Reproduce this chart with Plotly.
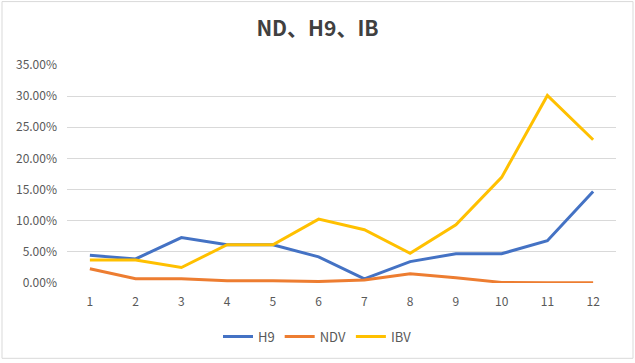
import plotly.graph_objects as go

months = [1, 2, 3, 4, 5, 6, 7, 8, 9, 10, 11, 12]
h9 = [0.0444, 0.0387, 0.0730, 0.0615, 0.0615, 0.0420, 0.0067, 0.0343, 0.0470, 0.0470, 0.0680, 0.1470]
ndv = [0.0230, 0.0067, 0.0067, 0.0035, 0.0035, 0.0024, 0.0050, 0.0150, 0.0083, 0.0010, 0.0005, 0.0005]
ibv = [0.0370, 0.0370, 0.0248, 0.0615, 0.0615, 0.1025, 0.0855, 0.0477, 0.0935, 0.1696, 0.3010, 0.2300]
y_ticks = [0, 0.05, 0.10, 0.15, 0.20, 0.25, 0.30, 0.35]
y_tick_labels = ["0.00%", "5.00%", "10.00%", "15.00%", "20.00%", "25.00%", "30.00%", "35.00%"]

series = [("H9", h9, "#4472C4"), ("NDV", ndv, "#ED7D31"), ("IBV", ibv, "#FFC000")]

fig = go.Figure()
for name, vals, color in series:
    fig.add_trace(go.Scatter(x=months, y=vals, name=name, mode="lines",
                             line=dict(color=color, width=3)))

W, H = 635, 363
ml, mr, mt, mb = 67, 19, 65, 78
pw, ph = W - ml - mr, H - mt - mb

fig.update_layout(
    width=W, height=H,
    margin=dict(l=ml, r=mr, t=mt, b=mb),
    paper_bgcolor="white", plot_bgcolor="white",
    font=dict(family="Noto Sans CJK SC", size=12, color="#595959"),
    title=dict(text="<b>ND、H9、IB</b>", x=0.5, xref="container", xanchor="center",
               y=1 - 29 / H, yanchor="middle",
               font=dict(family="Noto Sans CJK SC", size=21, color="#404040")),
    showlegend=True,
    legend=dict(orientation="h", x=(317.5 - ml) / pw, xanchor="center", y=(H - mb - 339) / ph,
                yanchor="middle", font=dict(size=13, color="#595959"),
                itemwidth=30, tracegroupgap=0),
    xaxis=dict(range=[0.5, 12.5], tickvals=months, ticktext=[str(m) for m in months],
               showgrid=False, zeroline=False, showline=False, ticks="",
               ticklabelstandoff=10, fixedrange=True),
    yaxis=dict(range=[0, 0.35], tickvals=y_ticks, ticktext=y_tick_labels,
               showgrid=True, gridcolor="#D9D9D9", gridwidth=1, zeroline=False,
               showline=False, ticks="", ticklabelstandoff=9, fixedrange=True),
    shapes=[dict(type="rect", xref="paper", yref="paper",
                 x0=(2 - ml) / pw, x1=(633 - ml) / pw,
                 y0=(H - mb - 361) / ph, y1=(H - mb - 1) / ph,
                 line=dict(color="#D9D9D9", width=1), fillcolor="rgba(0,0,0,0)",
                 layer="below")],
)

fig.write_html("out.html", config={"displayModeBar": False},
               post_script="document.body.style.margin='0';document.body.style.overflow='hidden';")
